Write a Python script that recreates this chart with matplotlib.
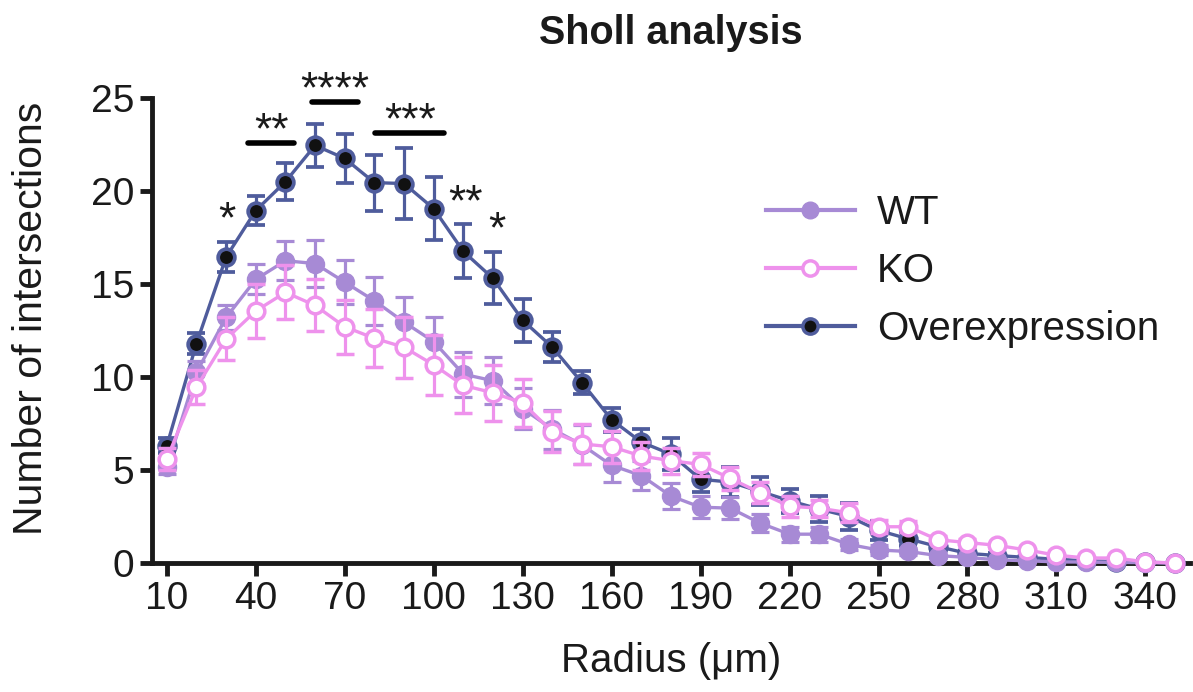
import matplotlib
matplotlib.use("Agg")
import matplotlib.pyplot as plt
from matplotlib.lines import Line2D
import numpy as np

plt.rcParams['font.family'] = ['Liberation Sans', 'DejaVu Sans']

radius = [10, 20, 30, 40, 50, 60, 70, 80, 90, 100, 110, 120, 130, 140, 150, 160, 170, 180,
          190, 200, 210, 220, 230, 240, 250, 260, 270, 280, 290, 300, 310, 320, 330, 340, 350]

wt_mean = [5.15, 10.25, 13.2, 15.25, 16.25, 16.1, 15.1, 14.1, 12.95, 11.9, 10.15, 9.8, 8.3, 7.2,
           6.35, 5.25, 4.7, 3.6, 3.0, 2.95, 2.15, 1.55, 1.55, 1.0, 0.7, 0.62, 0.4, 0.3, 0.17,
           0.12, 0.06, 0.05, 0.03, 0.02, 0.0]
wt_err = [0.35, 0.6, 0.65, 0.8, 1.05, 1.25, 1.2, 1.3, 1.35, 1.3, 1.2, 1.25, 1.1, 1.05, 1.05, 0.9,
          0.8, 0.7, 0.6, 0.6, 0.5, 0.4, 0.4, 0.3, 0.25, 0.2, 0.15, 0.1, 0.08, 0.06, 0.04, 0.03,
          0.02, 0.02, 0.0]

ko_mean = [5.6, 9.45, 12.05, 13.55, 14.55, 13.85, 12.7, 12.08, 11.6, 10.65, 9.55, 9.15, 8.6, 7.05,
           6.4, 6.25, 5.75, 5.5, 5.3, 4.55, 3.78, 3.05, 2.95, 2.7, 1.95, 1.95, 1.25, 1.1, 0.95,
           0.7, 0.42, 0.27, 0.27, 0.06, 0.0]
ko_err = [0.6, 0.9, 1.15, 1.45, 1.45, 1.4, 1.45, 1.55, 1.65, 1.6, 1.5, 1.5, 1.3, 1.1, 1.1, 0.85,
          0.75, 0.7, 0.6, 0.6, 0.55, 0.55, 0.45, 0.5, 0.36, 0.3, 0.2, 0.2, 0.15, 0.12, 0.08,
          0.05, 0.05, 0.03, 0.0]

oe_mean = [6.3, 11.8, 16.45, 18.95, 20.5, 22.45, 21.75, 20.45, 20.4, 19.05, 16.75, 15.3, 13.05,
           11.6, 9.7, 7.7, 6.5, 5.85, 4.5, 4.35, 3.85, 3.35, 2.9, 2.5, 1.75, 1.3, 0.88, 0.52,
           0.4, 0.3, 0.2, 0.12, 0.08, 0.04, 0.0]
oe_err = [0.4, 0.55, 0.8, 0.8, 1.0, 1.15, 1.3, 1.5, 1.9, 1.7, 1.45, 1.4, 1.15, 0.8, 0.6, 0.65,
          0.7, 0.85, 0.7, 0.8, 0.75, 0.65, 0.7, 0.7, 0.5, 0.36, 0.25, 0.15, 0.12, 0.1, 0.08,
          0.05, 0.04, 0.03, 0.0]

series_labels = ["WT", "KO", "Overexpression"]
x_ticks = [10, 40, 70, 100, 130, 160, 190, 220, 250, 280, 310, 340]
y_ticks = [0, 5, 10, 15, 20, 25]

# significance annotations
sig_bars = [(37.5, 53.0, 22.57), (59.0, 74.5, 24.77), (80.3, 103.5, 23.1)]
sig_bar_labels = ["**", "****", "***"]
sig_points = [(30.4, 18.97, "*"), (110.8, 19.87, "**"), (121.3, 18.43, "*")]

c_wt = "#A78AD5"
c_ko = "#EE92EC"
c_oe = "#4F5C9C"

fig = plt.figure(figsize=(11.93, 6.92), dpi=100)
ax = fig.add_axes([0.1274, 0.1864, 0.870, 0.6720])

lw = 2.4
common = dict(linewidth=lw, elinewidth=2.3, capsize=6.5, capthick=2.3, clip_on=False)

ax.errorbar(radius, oe_mean, yerr=oe_err, color=c_oe, marker='o', markersize=12,
            markerfacecolor='#111111', markeredgecolor=c_oe, markeredgewidth=2.7,
            zorder=3, **common)
ax.errorbar(radius, wt_mean, yerr=wt_err, color=c_wt, marker='o', markersize=13,
            markerfacecolor=c_wt, markeredgecolor=c_wt, zorder=4, **common)
ax.errorbar(radius, ko_mean, yerr=ko_err, color=c_ko, marker='o', markersize=12,
            markerfacecolor='white', markeredgecolor=c_ko, markeredgewidth=2.5,
            zorder=5, **common)

for (x0, x1, y), lab in zip(sig_bars, sig_bar_labels):
    ax.plot([x0, x1], [y, y], color='black', linewidth=4, solid_capstyle='round',
            clip_on=False, zorder=6)
    ax.text((x0 + x1) / 2, y + 0.62, lab, ha='center', va='center', fontsize=32,
            color='#1a1a1a', zorder=6)
for x, y, lab in sig_points:
    ax.text(x, y - 0.55, lab, ha='center', va='center', fontsize=32, color='#1a1a1a',
            zorder=6)

ax.set_xlim(5, 355)
ax.set_ylim(0, 25)
ax.set_xticks(x_ticks)
ax.set_yticks(y_ticks)
ax.set_xticklabels([str(t) for t in x_ticks])
ax.set_yticklabels([str(t) for t in y_ticks])

for s in ['top', 'right']:
    ax.spines[s].set_visible(False)
for s in ['left', 'bottom']:
    ax.spines[s].set_linewidth(3.5)
    ax.spines[s].set_color('#1a1a1a')
ax.tick_params(axis='both', direction='out', length=9, width=3.5, color='#1a1a1a',
               labelsize=28, labelcolor='#1a1a1a', pad=4)

ax.set_xlabel("Radius (μm)", fontsize=29, color='#1a1a1a', labelpad=18)
ax.set_ylabel("Number of intersections", fontsize=29.5, color='#1a1a1a')
ax.yaxis.set_label_coords(-0.098, 0.527)
fig.text(0.5625, 0.953, "Sholl analysis", ha='center', va='center', fontsize=28.5,
         fontweight='bold', color='#1a1a1a')

handles = [
    Line2D([], [], color=c_wt, linewidth=3, marker='o', markersize=12,
           markerfacecolor=c_wt, markeredgecolor=c_wt),
    Line2D([], [], color=c_ko, linewidth=3, marker='o', markersize=11,
           markerfacecolor='white', markeredgecolor=c_ko, markeredgewidth=2.5),
    Line2D([], [], color=c_oe, linewidth=3, marker='o', markersize=11,
           markerfacecolor='#111111', markeredgecolor=c_oe, markeredgewidth=2.5),
]
leg = fig.legend(handles, series_labels, loc='upper left', bbox_to_anchor=(0.642, 0.719),
                 frameon=False, fontsize=29, handlelength=2.2, handletextpad=0.55,
                 labelspacing=0.49, borderpad=0, borderaxespad=0)
for t in leg.get_texts():
    t.set_color('#1a1a1a')

fig.savefig("out.png", dpi=100)
